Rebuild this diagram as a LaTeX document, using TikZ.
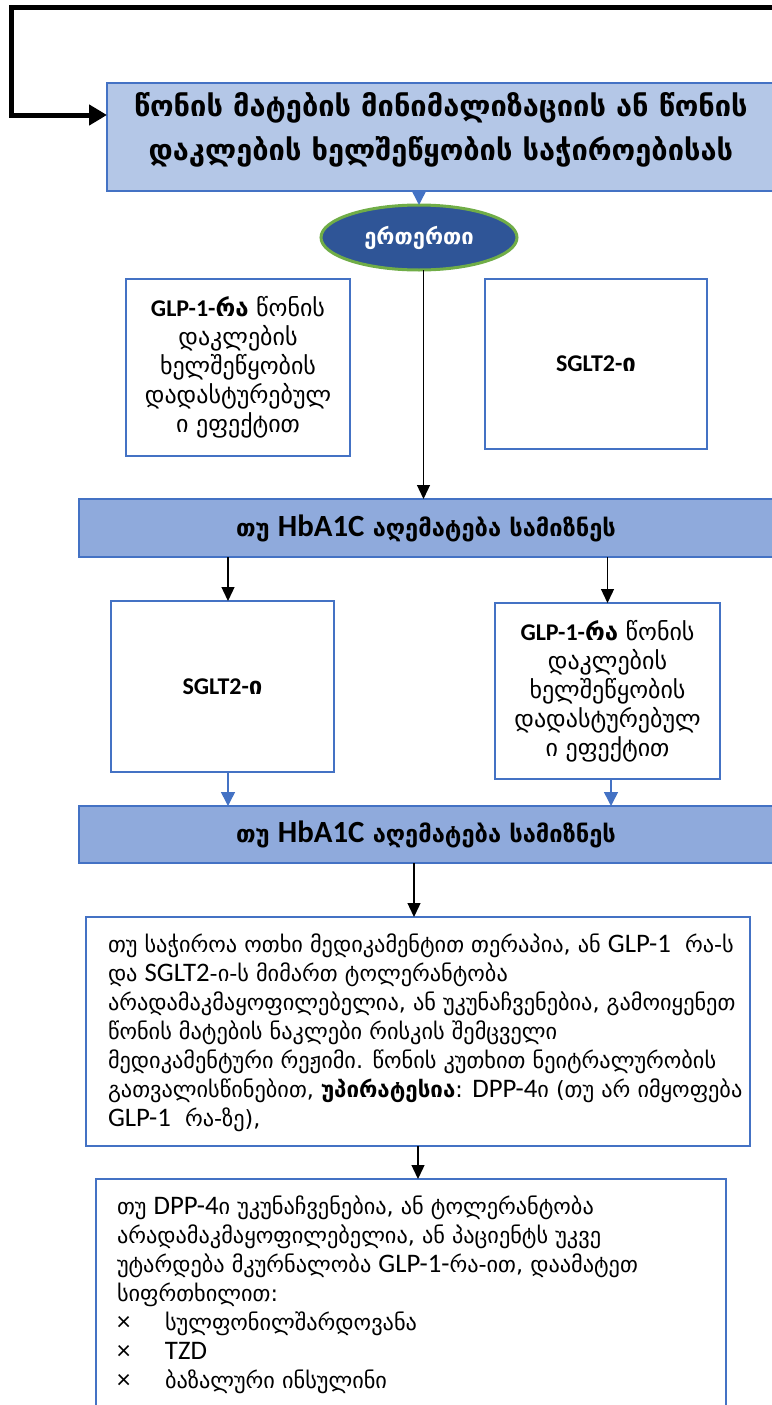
\documentclass[tikz,border=0pt]{standalone}
\usepackage{fontspec}
\setmainfont{DejaVu Sans}
\newfontfamily\latA{Carlito}[Scale=1.2]
\newfontfamily\latB{Carlito}[Scale=1.0]
\newfontfamily\latC{Carlito}[Scale=1.3]
\usetikzlibrary{arrows.meta,shapes.geometric}
\definecolor{bord}{HTML}{4472C4}
\definecolor{lightb}{HTML}{B4C7E7}
\definecolor{midb}{HTML}{8FAADC}
\definecolor{ellb}{HTML}{2F5597}
\definecolor{ellg}{HTML}{70AD47}
\newcommand{\la}[1]{{\latA #1}}
\newcommand{\lb}[1]{{\latB #1}}
\newcommand{\lc}[1]{{\latC #1}}
\begin{document}
\begin{tikzpicture}[x=1pt,y=-1pt,
  box/.style={draw=bord, line width=2.5pt, fill=white, align=center, inner sep=0pt, outer sep=0pt, font=\fontsize{24}{29}\selectfont},
  hdr/.style={box, fill=midb, font=\fontsize{23.7}{29}\selectfont\bfseries},
  plain/.style={inner sep=0pt, outer sep=0pt, align=center},
  bodytxt/.style={plain, align=left, anchor=west, font=\fontsize{22.3}{29}\selectfont},
  ellnode/.style={ellipse, draw=ellg, line width=3pt, fill=ellb, text=white, inner sep=0pt, outer sep=0pt, minimum width=196pt, minimum height=65pt, font=\fontsize{22}{24}\selectfont\bfseries},
  arr/.style={draw=black, line width=1.3pt, -{Triangle[length=14pt,width=13pt]}},
  barr/.style={draw=bord, line width=1.5pt, -{Triangle[length=14pt,width=14pt]}},
  loopline/.style={draw=black, line width=5pt, line join=miter, -{Triangle[length=18pt,width=20pt]}}
]
\useasboundingbox (0,0) rectangle (771,1405);

\node[box, fill=lightb, minimum width=672pt, minimum height=108pt] (top) at (443,137) {};
\node[plain, font=\fontsize{29}{44}\selectfont\bfseries] (toptxt) at (441,130)
  {წონის მატების მინიმალიზაციის ან წონის\\დაკლების ხელშეწყობის საჭიროებისას};

\node[ellnode] (ell) at (419,237.5) {ერთერთი};

\node[box, minimum width=224pt, minimum height=177pt] (g1) at (238,367.5)
  {\textbf{\lb{GLP-1-}რა} წონის\\დაკლების\\ხელშეწყობის\\დადასტურებულ\\ი ეფექტით};
\node[box, minimum width=222pt, minimum height=170pt] (s1) at (596,364)
  {\textbf{\lb{SGLT2-}ი}};

\node[hdr, minimum width=694pt, minimum height=58pt] (hb1) at (426,528)
  {თუ \lc{HbA1C} აღემატება სამიზნეს};

\node[box, minimum width=223pt, minimum height=171pt] (m1) at (222.5,686.5)
  {\textbf{\lb{SGLT2-}ი}};
\node[box, minimum width=225pt, minimum height=176pt] (g2) at (607.5,691)
  {\textbf{\lb{GLP-1-}რა} წონის\\დაკლების\\ხელშეწყობის\\დადასტურებულ\\ი ეფექტით};

\node[hdr, minimum width=694pt, minimum height=57pt] (hb2) at (426,834.5)
  {თუ \lc{HbA1C} აღემატება სამიზნეს};

\node[box, minimum width=664pt, minimum height=229pt] (b1) at (418,1031.5) {};
\node[bodytxt] (b1txt) at (108,1033)
  {თუ საჭიროა ოთხი მედიკამენტით თერაპია, ან \la{GLP-1}\ \ რა-ს\\
   და \la{SGLT2}-ი-ს მიმართ ტოლერანტობა\\
   არადამაკმაყოფილებელია, ან უკუნაჩვენებია, გამოიყენეთ\\
   წონის მატების ნაკლები რისკის შემცველი\\
   მედიკამენტური რეჟიმი. წონის კუთხით ნეიტრალურობის\\
   გათვალისწინებით, \textbf{უპირატესია}: \la{DPP-4}ი (თუ არ იმყოფება\\
   \la{GLP-1}\ \ რა-ზე),};

\node[box, minimum width=630pt, minimum height=232pt] (b2) at (411,1295) {};
\node[bodytxt] (b2txt) at (117,1295)
  {თუ \la{DPP-4}ი უკუნაჩვენებია, ან ტოლერანტობა\\
   არადამაკმაყოფილებელია, ან პაციენტს უკვე\\
   უტარდება მკურნალობა \la{GLP-1-}რა-ით, დაამატეთ\\
   სიფრთხილით:\\
   \makebox[48pt][l]{\la{×}}სულფონილშარდოვანა\\
   \makebox[48pt][l]{\la{×}}\la{TZD}\\
   \makebox[48pt][l]{\la{×}}ბაზალური ინსულინი};

% loop connector
\coordinate (l0) at (790,8);
\coordinate (l1) at (11.5,8);
\coordinate (l2) at (11.5,115);
\draw[loopline] (l0) -- (l1) -- (l2) -- (l2 -| top.west);

% connectors
\draw[barr] (ell.north |- top.south) -- (ell.north);
\path ([xshift=4.5pt]ell.south) coordinate (en);
\draw[arr] (en) -- (en |- hb1.north);
\path ([xshift=5.5pt]m1.north) coordinate (m1n);
\draw[arr] (m1n |- hb1.south) -- (m1n);
\draw[arr] (g2.north |- hb1.south) -- (g2.north);
\draw[barr] (m1n |- m1.south) -- (m1n |- hb2.north);
\path ([xshift=3.5pt]g2.south) coordinate (g2s);
\draw[barr] (g2s) -- (g2s |- hb2.north);
\path ([xshift=-4pt]b1.north) coordinate (b1n);
\draw[arr] (b1n |- hb2.south) -- (b1n);
\draw[arr] (b1.south) -- (b1.south |- b2.north);
\end{tikzpicture}
\end{document}
